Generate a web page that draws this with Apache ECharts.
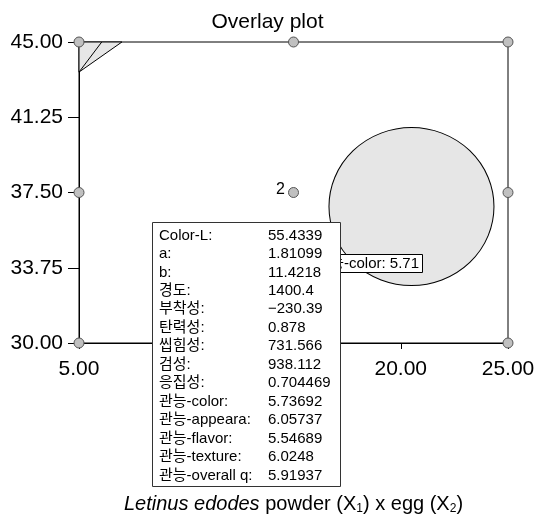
<!DOCTYPE html>
<html>
<head>
<meta charset="utf-8">
<script src="https://cdn.jsdelivr.net/npm/echarts@6/dist/echarts.min.js"></script>
<style>html,body{margin:0;padding:0;background:#fff}#c{width:535px;height:521px}</style>
</head>
<body>
<div id="c"></div>
<script>
// design points (X1, X2)
var designX = [5, 15, 25, 5, 15, 25, 5, 15, 25];
var designY = [45, 45, 45, 37.5, 37.5, 37.5, 30, 30, 30];
var designLabels = ['', '', '', '', '2', '', '', '', ''];
// overlay bubble (optimum region)
var bubbleX = [20.5];
var bubbleY = [36.8];
// small triangular region at top-left corner
var triX = [5, 5, 7.0];
var triY = [45, 43.5, 45];
var triInnerX = [5, 6.06];
var triInnerY = [43.5, 45];
// axis ticks
var xTicks = [5, 10, 15, 20, 25];
var yTicks = [30, 33.75, 37.5, 41.25, 45];
// tooltip content
var tipLabels = ['Color-L:', 'a:', 'b:', '경도:', '부착성:', '탄력성:', '씹힘성:', '검성:', '응집성:', '관능-color:', '관능-appeara:', '관능-flavor:', '관능-texture:', '관능-overall q:'];
var tipValues = ['55.4339', '1.81099', '11.4218', '1400.4', '\u2212230.39', '0.878', '731.566', '938.112', '0.704469', '5.73692', '6.05737', '5.54689', '6.0248', '5.91937'];
var hoverLabel = '관능-color: 5.71';

var FONT = "'Liberation Sans', Arial, 'Noto Sans CJK KR', sans-serif";
var chart = echarts.init(document.getElementById('c'));

var designData = designX.map(function (x, i) { return [x, designY[i], designLabels[i]]; });
var triData = triX.map(function (x, i) { return [x, triY[i]]; });
var triInner = triInnerX.map(function (x, i) { return [x, triInnerY[i]]; });
var bubbleData = bubbleX.map(function (x, i) { return [x, bubbleY[i]]; });

var graphics = [];
graphics.push({
  type: 'rect', z: 50, silent: true,
  shape: { x: 290.5, y: 254.5, width: 132, height: 18 },
  style: { fill: '#fff', stroke: '#000', lineWidth: 1 }
});
graphics.push({
  type: 'text', z: 51, silent: true,
  style: { text: hoverLabel, x: 419, y: 264, align: 'right', verticalAlign: 'middle', font: '15px ' + FONT, fill: '#000' }
});
graphics.push({
  type: 'rect', z: 100, silent: true,
  shape: { x: 152.5, y: 222.5, width: 188, height: 264 },
  style: { fill: '#fff', stroke: '#333', lineWidth: 1 }
});
tipLabels.forEach(function (t, i) {
  var y = 235.5 + i * 18.46;
  graphics.push({ type: 'text', z: 101, silent: true,
    style: { text: t, x: 159, y: y, verticalAlign: 'middle', font: '15px ' + FONT, fill: '#000' } });
  graphics.push({ type: 'text', z: 101, silent: true,
    style: { text: tipValues[i], x: 268, y: y, verticalAlign: 'middle', font: '15px ' + FONT, fill: '#000' } });
});

chart.setOption({
  animation: false,
  backgroundColor: '#fff',
  title: {
    text: 'Overlay plot', left: 'center', top: 7,
    textStyle: { fontFamily: FONT, fontSize: 21, fontWeight: 'normal', color: '#000' }
  },
  grid: { left: 79, right: 27, top: 42, bottom: 178, show: true, borderColor: '#000', borderWidth: 1, backgroundColor: 'transparent', outerBoundsMode: 'none', containLabel: false },
  xAxis: {
    type: 'value', min: xTicks[0], max: xTicks[xTicks.length - 1], interval: 5,
    axisLine: { lineStyle: { color: '#000', width: 1 } },
    axisTick: { show: true, length: 6, lineStyle: { color: '#000' } },
    splitLine: { show: false },
    axisLabel: { margin: 16, color: '#000', fontFamily: FONT, fontSize: 21, formatter: function (v) { return v.toFixed(2); } },
    name: '{i|Letinus edodes} powder (X{s|1}) x egg (X{s|2})',
    nameLocation: 'middle', nameGap: 150,
    nameTextStyle: {
      color: '#000', fontFamily: FONT, fontSize: 20,
      rich: {
        i: { fontStyle: 'italic', fontSize: 20, fontFamily: FONT, color: '#000' },
        s: { fontSize: 12, fontFamily: FONT, color: '#000', verticalAlign: 'bottom', padding: [10, 0, 0, 0] }
      }
    }
  },
  yAxis: {
    type: 'value', min: yTicks[0], max: yTicks[yTicks.length - 1], interval: 3.75,
    axisLine: { show: true, lineStyle: { color: '#000', width: 1 } },
    axisTick: { show: true, length: 11, lineStyle: { color: '#000' } },
    splitLine: { show: false },
    axisLabel: { margin: 16, color: '#000', fontFamily: FONT, fontSize: 21, formatter: function (v) { return v.toFixed(2); } }
  },
  graphic: graphics,
  series: [
    {
      type: 'scatter', data: bubbleData, symbol: 'circle', symbolSize: [165, 158], z: 2,
      itemStyle: { color: '#e6e6e6', borderColor: '#000', borderWidth: 1, opacity: 1 },
      silent: true
    },
    {
      type: 'custom', z: 3, silent: true, clip: false,
      renderItem: function (params, api) {
        var pts = triData.map(function (p) { return api.coord(p); });
        return { type: 'polygon', shape: { points: pts }, style: { fill: '#e6e6e6', stroke: '#000', lineWidth: 1 } };
      },
      data: [0]
    },
    {
      type: 'line', data: triInner, symbol: 'none', z: 4, silent: true,
      lineStyle: { color: '#000', width: 1 }
    },
    {
      type: 'scatter', data: designData, symbol: 'circle', symbolSize: 10, z: 5, silent: true,
      itemStyle: { color: '#c0c0c0', borderColor: '#555', borderWidth: 1, opacity: 1 },
      label: {
        show: true, position: 'left', distance: 3, offset: [0, -3],
        formatter: function (p) { return p.data[2]; },
        color: '#000', fontFamily: FONT, fontSize: 16
      }
    }
  ]
});
</script>
</body>
</html>
